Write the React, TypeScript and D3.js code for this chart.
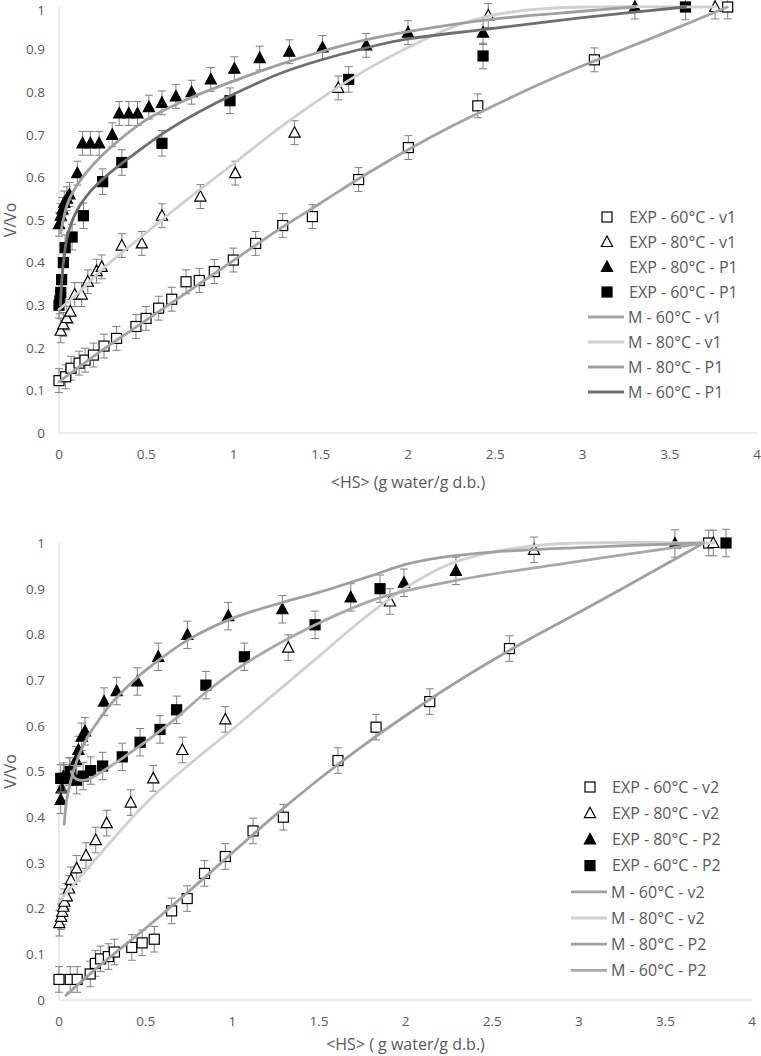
import React from 'react';
import * as d3 from 'd3';

type P = [number, number];

// ---------- Top chart (v1 / P1) ----------
const exp60v1: P[] = [[0, 0.123], [0.038, 0.132], [0.069, 0.152], [0.115, 0.164], [0.149, 0.171], [0.197, 0.183], [0.258, 0.204], [0.33, 0.222], [0.441, 0.25], [0.499, 0.269], [0.571, 0.293], [0.646, 0.314], [0.728, 0.355], [0.804, 0.358], [0.89, 0.379], [0.999, 0.406], [1.127, 0.445], [1.282, 0.487], [1.452, 0.508], [1.717, 0.595], [2.002, 0.67], [2.4, 0.768], [3.068, 0.876], [3.832, 1.0]];
const exp80v1: P[] = [[0.01, 0.24], [0.025, 0.255], [0.045, 0.27], [0.065, 0.285], [0.09, 0.325], [0.13, 0.325], [0.165, 0.355], [0.215, 0.38], [0.245, 0.39], [0.36, 0.44], [0.475, 0.445], [0.59, 0.51], [0.81, 0.555], [1.01, 0.61], [1.35, 0.705], [1.6, 0.81], [2.46, 0.98], [3.76, 1.0]];
const exp80P1: P[] = [[0.0, 0.49], [0.01, 0.51], [0.02, 0.525], [0.03, 0.54], [0.045, 0.55], [0.06, 0.56], [0.105, 0.61], [0.135, 0.68], [0.18, 0.68], [0.23, 0.68], [0.305, 0.7], [0.345, 0.75], [0.4, 0.75], [0.45, 0.75], [0.515, 0.765], [0.59, 0.775], [0.67, 0.79], [0.76, 0.8], [0.87, 0.83], [1.005, 0.855], [1.15, 0.88], [1.32, 0.895], [1.51, 0.905], [1.76, 0.91], [2.0, 0.94], [2.43, 0.94], [3.3, 1.0]];
const exp60P1: P[] = [[0, 0.3], [0.005, 0.31], [0.01, 0.33], [0.015, 0.36], [0.025, 0.4], [0.035, 0.435], [0.075, 0.46], [0.14, 0.51], [0.25, 0.59], [0.36, 0.635], [0.59, 0.68], [0.98, 0.78], [1.66, 0.83], [2.43, 0.885], [3.59, 1.0]];

const m60v1: P[] = [[0, 0.12], [0.25, 0.195], [0.5, 0.265], [0.75, 0.335], [1, 0.405], [1.25, 0.475], [1.5, 0.54], [1.75, 0.605], [2, 0.665], [2.25, 0.72], [2.5, 0.77], [2.75, 0.818], [3, 0.862], [3.25, 0.903], [3.5, 0.944], [3.83, 1.0]];
const m80v1: P[] = [[0, 0.29], [0.1, 0.325], [0.25, 0.385], [0.5, 0.47], [0.75, 0.553], [1, 0.632], [1.25, 0.712], [1.5, 0.785], [1.75, 0.85], [2, 0.905], [2.25, 0.952], [2.5, 0.982], [2.75, 0.995], [3, 1.0], [3.76, 1.0]];
const m80P1: P[] = [[0.01, 0.47], [0.05, 0.54], [0.1, 0.58], [0.2, 0.632], [0.3, 0.672], [0.5, 0.735], [0.75, 0.786], [1, 0.826], [1.25, 0.863], [1.5, 0.895], [1.75, 0.922], [2, 0.942], [2.5, 0.972], [3, 0.99], [3.3, 1.0]];
const m60P1: P[] = [[0.008, 0.3], [0.025, 0.4], [0.05, 0.465], [0.1, 0.52], [0.18, 0.567], [0.27, 0.603], [0.4, 0.645], [0.64, 0.715], [1, 0.795], [1.32, 0.852], [1.84, 0.912], [2.0, 0.925], [2.43, 0.947], [3.0, 0.975], [3.59, 1.0]];

// ---------- Bottom chart (v2 / P2) ----------
const exp60v2: P[] = [[0, 0.045], [0.065, 0.045], [0.105, 0.045], [0.18, 0.057], [0.21, 0.08], [0.24, 0.09], [0.285, 0.095], [0.32, 0.105], [0.42, 0.115], [0.48, 0.125], [0.55, 0.133], [0.65, 0.195], [0.74, 0.222], [0.84, 0.277], [0.96, 0.314], [1.12, 0.37], [1.295, 0.4], [1.61, 0.524], [1.83, 0.597], [2.14, 0.653], [2.6, 0.769], [3.75, 1.0]];
const exp80v2: P[] = [[0.002, 0.168], [0.012, 0.182], [0.019, 0.193], [0.025, 0.204], [0.031, 0.215], [0.044, 0.227], [0.058, 0.244], [0.069, 0.263], [0.102, 0.288], [0.156, 0.316], [0.212, 0.35], [0.275, 0.387], [0.414, 0.432], [0.544, 0.485], [0.712, 0.547], [0.96, 0.614], [1.323, 0.771], [1.91, 0.872], [2.742, 0.985], [3.777, 1.0]];
const exp80P2: P[] = [[0.01, 0.438], [0.015, 0.463], [0.025, 0.489], [0.06, 0.5], [0.098, 0.525], [0.112, 0.547], [0.131, 0.576], [0.15, 0.588], [0.26, 0.653], [0.333, 0.676], [0.452, 0.697], [0.573, 0.751], [0.741, 0.799], [0.977, 0.84], [1.289, 0.855], [1.684, 0.881], [1.991, 0.913], [2.291, 0.939], [3.555, 0.999]];
const exp60P2: P[] = [[0.01, 0.485], [0.035, 0.485], [0.064, 0.5], [0.102, 0.481], [0.14, 0.49], [0.183, 0.502], [0.252, 0.512], [0.365, 0.532], [0.468, 0.564], [0.583, 0.592], [0.679, 0.635], [0.848, 0.689], [1.07, 0.751], [1.478, 0.821], [1.853, 0.9], [3.85, 1.0]];

const m60v2: P[] = [[0.04, 0.01], [0.25, 0.08], [0.5, 0.157], [0.75, 0.238], [1, 0.322], [1.25, 0.405], [1.5, 0.483], [1.75, 0.555], [2, 0.622], [2.25, 0.685], [2.5, 0.743], [2.75, 0.797], [3, 0.848], [3.25, 0.9], [3.5, 0.953], [3.72, 1.0]];
const m80v2: P[] = [[0, 0.215], [0.25, 0.325], [0.5, 0.43], [0.75, 0.515], [1, 0.592], [1.25, 0.672], [1.5, 0.752], [1.75, 0.832], [2, 0.902], [2.25, 0.953], [2.5, 0.98], [2.75, 0.994], [3, 1.0], [3.78, 1.0]];
const m80P2: P[] = [[0.03, 0.385], [0.045, 0.44], [0.075, 0.49], [0.11, 0.53], [0.16, 0.572], [0.24, 0.618], [0.3, 0.648], [0.45, 0.705], [0.57, 0.742], [0.74, 0.787], [1, 0.835], [1.29, 0.87], [1.5, 0.892], [1.8, 0.928], [2.0, 0.953], [2.2, 0.968], [2.5, 0.98], [3, 0.99], [3.72, 1.0]];
const m60P2: P[] = [[0.07, 0.5], [0.09, 0.486], [0.12, 0.481], [0.17, 0.483], [0.27, 0.505], [0.37, 0.53], [0.47, 0.557], [0.58, 0.588], [0.68, 0.618], [0.85, 0.674], [1.07, 0.735], [1.48, 0.821], [1.85, 0.88], [2.29, 0.918], [3.0, 0.96], [3.55, 0.99], [3.72, 1.0]];

const xTicks = [0, 0.5, 1, 1.5, 2, 2.5, 3, 3.5, 4];
const yTicks = [0, 0.1, 0.2, 0.3, 0.4, 0.5, 0.6, 0.7, 0.8, 0.9, 1];

const topExpLabels = ['EXP - 60°C - v1', 'EXP - 80°C - v1', 'EXP - 80°C - P1', 'EXP - 60°C - P1'];
const topModLabels = ['M - 60°C - v1', 'M - 80°C - v1', 'M - 80°C - P1', 'M - 60°C - P1'];
const botExpLabels = ['EXP - 60°C - v2', 'EXP - 80°C - v2', 'EXP - 80°C - P2', 'EXP - 60°C - P2'];
const botModLabels = ['M - 60°C - v2', 'M - 80°C - v2', 'M - 80°C - P2', 'M - 60°C - P2'];

const FONT = "'Open Sans', sans-serif";
const TXT = '#595959';
const AXIS = '#d9d9d9';
const ERRC = '#7f7f7f';

type Shape = 'sqOpen' | 'triOpen' | 'triFill' | 'sqFill';
const shapes: Shape[] = ['sqOpen', 'triOpen', 'triFill', 'sqFill'];

function Marker({ shape, x, y }: { shape: Shape; x: number; y: number }) {
  const fill = shape === 'sqOpen' || shape === 'triOpen' ? '#fff' : '#000';
  if (shape === 'sqOpen' || shape === 'sqFill') {
    return <rect x={x - 5} y={y - 5} width={10} height={10} fill={fill} stroke="#000" strokeWidth={1.2} />;
  }
  const pts = `${x},${y - 6} ${x + 5.6},${y + 4.5} ${x - 5.6},${y + 4.5}`;
  return <polygon points={pts} fill={fill} stroke="#000" strokeWidth={1.2} strokeLinejoin="miter" />;
}

interface PanelProps {
  y0: number;
  y1: number;
  x0: number;
  x1: number;
  exps: P[][];
  errs: number[];
  models: P[][];
  modelColors: string[];
  expLabels: string[];
  modLabels: string[];
  xTitle: string;
  titleDy: number;
  legX: number;
  legY: number;
  legStep: number;
}

function Panel(p: PanelProps) {
  const xs = d3.scaleLinear().domain([0, 4]).range([p.x0, p.x1]);
  const ys = d3.scaleLinear().domain([0, 1]).range([p.y0, p.y1]);
  const line = d3.line<P>().x(d => xs(d[0])).y(d => ys(d[1])).curve(d3.curveCatmullRom.alpha(0.5));
  return (
    <g>
      <line x1={xs(0)} x2={xs(0)} y1={ys(0)} y2={ys(1)} stroke={AXIS} strokeWidth={1.2} />
      <line x1={xs(0)} x2={xs(4)} y1={ys(0)} y2={ys(0)} stroke={AXIS} strokeWidth={1.2} />
      {yTicks.map(t => (
        <text key={'y' + t} x={45} y={Math.max(ys(t) + 4.8, 14.6)} textAnchor="end" fontFamily={FONT} fontSize={13.5} fill={TXT}>
          {d3.format('~g')(t)}
        </text>
      ))}
      {xTicks.map(t => (
        <text key={'x' + t} x={xs(t)} y={ys(0) + 26} textAnchor="middle" fontFamily={FONT} fontSize={13.5} fill={TXT}>
          {d3.format('~g')(t)}
        </text>
      ))}
      <text x={(xs(0) + xs(4)) / 2} y={ys(0) + p.titleDy} textAnchor="middle" fontFamily={FONT} fontSize={16} fill={TXT}>
        {p.xTitle}
      </text>
      <text transform={`translate(16,${(ys(0) + ys(1)) / 2}) rotate(-90)`} textAnchor="middle" fontFamily={FONT} fontSize={16} fill={TXT}>
        V/Vo
      </text>
      {p.exps.map((s, i) => (
        <g key={'e' + i}>
          {s.map((d, j) => {
            const cx = xs(d[0]);
            const e = p.errs[i];
            return (
              <g key={j} stroke={ERRC} strokeWidth={1}>
                <line x1={cx} x2={cx} y1={ys(d[1] - e)} y2={ys(d[1] + e)} />
                <line x1={cx - 4} x2={cx + 4} y1={ys(d[1] - e)} y2={ys(d[1] - e)} />
                <line x1={cx - 4} x2={cx + 4} y1={ys(d[1] + e)} y2={ys(d[1] + e)} />
              </g>
            );
          })}
          {s.map((d, j) => (
            <Marker key={'m' + j} shape={shapes[i]} x={xs(d[0])} y={ys(d[1])} />
          ))}
        </g>
      ))}
      {p.models.map((s, i) => (
        <path key={'l' + i} d={line(s) || ''} fill="none" stroke={p.modelColors[i]} strokeWidth={2.8} strokeLinecap="round" />
      ))}
      {p.expLabels.map((l, i) => (
        <g key={'le' + i}>
          <Marker shape={shapes[i]} x={p.legX} y={p.legY + i * p.legStep} />
          <text x={p.legX + 22} y={p.legY + i * p.legStep + 5.7} fontFamily={FONT} fontSize={16} fill={TXT}>
            {l}
          </text>
        </g>
      ))}
      {p.modLabels.map((l, i) => {
        const yy = p.legY + (i + 4) * p.legStep;
        return (
          <g key={'lm' + i}>
            <line x1={p.legX - 19} x2={p.legX + 17} y1={yy} y2={yy} stroke={p.modelColors[i]} strokeWidth={2.8} />
            <text x={p.legX + 21} y={yy + 5.7} fontFamily={FONT} fontSize={16} fill={TXT}>
              {l}
            </text>
          </g>
        );
      })}
    </g>
  );
}

export default function App() {
  return (
    <svg width={761} height={1056} style={{ position: 'absolute', left: 0, top: 0, background: '#fff' }}>
      <rect width={761} height={1056} fill="#fff" />
      <Panel
        y0={433}
        y1={7}
        x0={59}
        x1={757}
        exps={[exp60v1, exp80v1, exp80P1, exp60P1]}
        errs={[0.028, 0.028, 0.028, 0.03]}
        models={[m60v1, m80v1, m80P1, m60P1]}
        modelColors={['#a3a3a3', '#d0d0d0', '#9f9f9f', '#6e6e6e']}
        expLabels={topExpLabels}
        modLabels={topModLabels}
        xTitle="<HS> (g water/g d.b.)"
        titleDy={55}
        legX={607}
        legY={217}
        legStep={25}
      />
      <Panel
        y0={1000}
        y1={543}
        x0={59}
        x1={752}
        exps={[exp60v2, exp80v2, exp80P2, exp60P2]}
        errs={[0.028, 0.028, 0.03, 0.03]}
        models={[m60v2, m80v2, m80P2, m60P2]}
        modelColors={['#a0a0a0', '#d0d0d0', '#a0a0a0', '#a8a8a8']}
        expLabels={botExpLabels}
        modLabels={botModLabels}
        xTitle="<HS> ( g water/g d.b.)"
        titleDy={50}
        legX={590}
        legY={787}
        legStep={26.2}
      />
    </svg>
  );
}
